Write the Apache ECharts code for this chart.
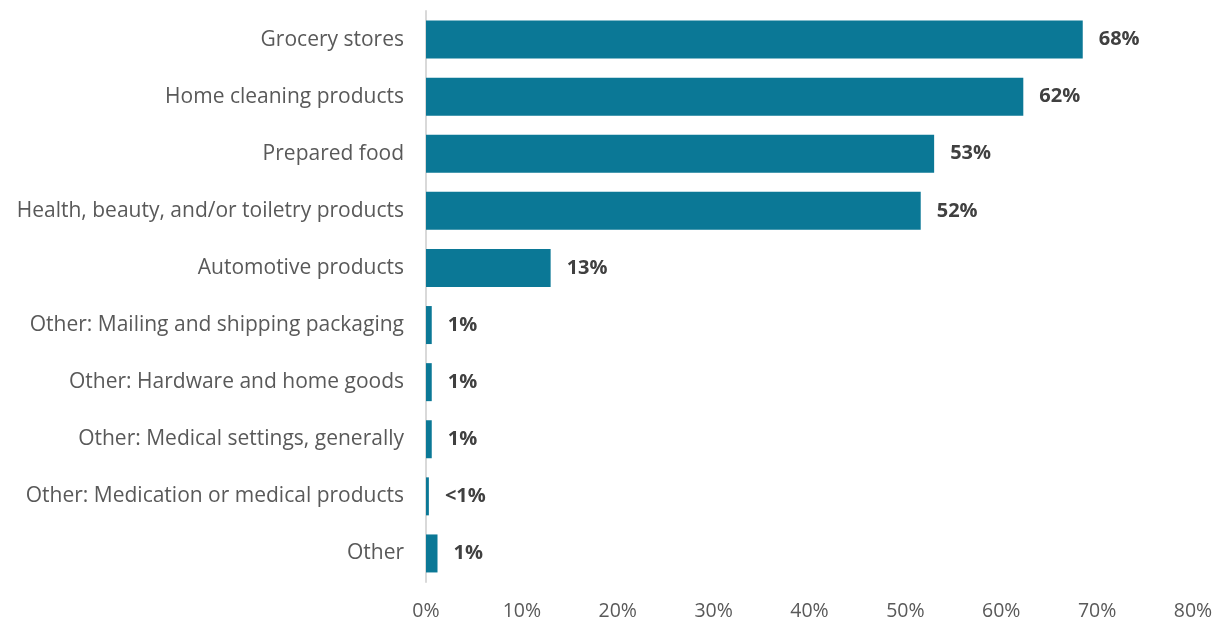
<!DOCTYPE html>
<html><head><meta charset="utf-8">
<script src="https://cdn.jsdelivr.net/npm/echarts@6/dist/echarts.min.js"></script>
<style>html,body{margin:0;padding:0;background:#fff}#c{width:1222px;height:622px}</style>
</head><body><div id="c"></div>
<script>
const categories = ["Grocery stores","Home cleaning products","Prepared food","Health, beauty, and/or toiletry products","Automotive products","Other: Mailing and shipping packaging","Other: Hardware and home goods","Other: Medical settings, generally","Other: Medication or medical products","Other"];
const values = [68.5, 62.3, 53, 51.6, 13, 0.6, 0.6, 0.6, 0.3, 1.2];
const labels = ["68%","62%","53%","52%","13%","1%","1%","1%","<1%","1%"];
const ticks = [0,10,20,30,40,50,60,70,80];

const chart = echarts.init(document.getElementById('c'));
chart.setOption({
  animation:false,
  grid:{left:426,right:29,top:11,bottom:40,containLabel:false},
  xAxis:{type:'value',min:ticks[0],max:ticks[ticks.length-1],interval:10,
    axisLabel:{formatter:v=>v+'%',color:'#595959',fontSize:19.5,fontFamily:'Open Sans',margin:19},
    splitLine:{show:false},axisLine:{show:false},axisTick:{show:false}},
  yAxis:{type:'category',data:categories,inverse:true,
    axisLine:{show:true,lineStyle:{color:'#D9D9D9',width:2}},axisTick:{show:false},
    axisLabel:{color:'#595959',fontSize:21,fontFamily:'Open Sans',margin:22}},
  series:[{type:'bar',data:values,barWidth:38,itemStyle:{color:'#0B7896'},
    label:{show:true,position:'right',distance:16,fontSize:20,fontWeight:'bold',color:'#404040',fontFamily:'Open Sans',
      formatter:p=>labels[p.dataIndex]}}]
});
</script></body></html>
